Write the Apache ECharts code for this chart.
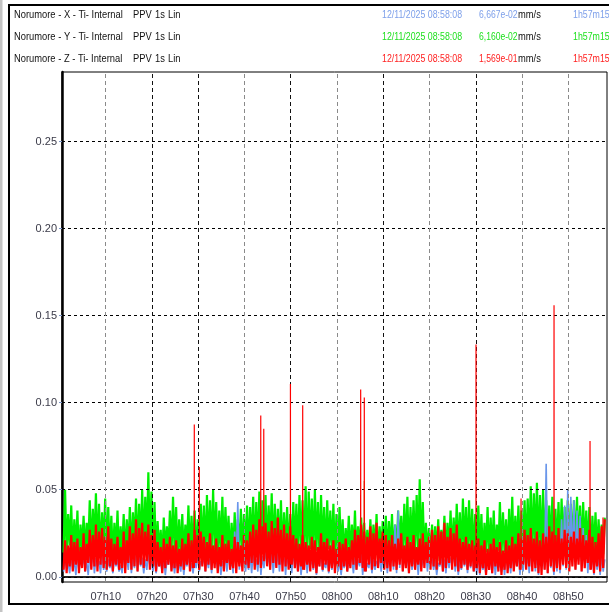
<!DOCTYPE html>
<html>
<head>
<meta charset="utf-8">
<script src="https://cdn.jsdelivr.net/npm/echarts@6/dist/echarts.min.js"></script>
<style>
html,body{margin:0;padding:0;background:#fff;}
#chart{width:609px;height:612px;}
</style>
</head>
<body>
<div id="chart"></div>
<script>
// ---- data (values in thousandths of mm/s, alternating low/high every 20 s from 07:00:53) ----
const VALUE_SCALE = 0.001;
const START_TIME = '07:00:53';
const STEP_SECONDS = 20;

const seriesNames = ['Norumore - X - Ti- Internal', 'Norumore - Y - Ti- Internal', 'Norumore - Z - Ti- Internal'];
const seriesKind = ['PPV', '1s', 'Lin'];
const lastDate = '12/11/2025 08:58:08';
const lastValues = ['6,667e-02', '6,160e-02', '1,569e-01'];
const unitText = 'mm/s';
const durationText = '1h57m15';

const xValues = [
 3,11, 5,8, 2,13, 4,9, 1,14, 4,10, 6,12, 3,9, 1,13, 5,15, 2,11, 6,9, 2,14, 4,12, 3,10,
 5,9, 2,12, 6,10, 3,7, 2,13, 7,11, 4,15, 2,12, 5,16, 3,13, 6,11, 2,10, 4,14, 7,9, 3,12,
 2,10, 6,8, 3,11, 1,9, 7,12, 4,9, 2,10, 5,7, 3,12, 1,10, 6,13, 4,8, 2,11, 5,14, 3,9,
 7,12, 3,10, 5,14, 2,11, 8,10, 4,13, 1,9, 6,12, 3,15, 5,10, 2,26, 7,43, 4,17, 8,12, 3,11,
 4,12, 2,14, 6,10, 3,16, 1,12, 5,15, 8,11, 4,17, 2,13, 6,15, 3,12, 7,16, 1,14, 5,12, 2,15,
 6,11, 3,13, 1,9, 5,14, 2,12, 7,9, 4,12, 1,10, 6,14, 3,8, 5,11, 2,13, 4,10, 7,12, 3,10,
 1,9, 5,11, 3,8, 7,10, 2,12, 4,10, 6,14, 1,12, 3,8, 5,13, 2,10, 4,9, 7,12, 3,11, 5,14,
 2,12, 6,17, 4,30, 2,38, 5,22, 3,14, 7,12, 2,15, 4,10, 6,13, 1,12, 5,9, 8,16, 3,13, 7,11,
 4,10, 1,8, 6,12, 3,10, 2,14, 5,11, 7,16, 3,12, 1,10, 4,14, 6,12, 2,13, 5,16, 3,11, 1,14,
 1,10, 4,8, 1,12, 6,9, 2,13, 1,10, 5,8, 3,12, 1,11, 7,10, 2,14, 4,12, 6,15, 1,12, 3,14,
 5,13, 2,16, 7,18, 3,14, 1,20, 6,17, 4,65, 2,22, 5,17, 1,15, 3,19, 2,33, 6,41, 4,50, 8,46,
 7,44, 4,38, 9,35, 3,28, 6,24, 2,17, 5,13, 1,16, 4,12, 1,13, 3,10
];
const yValues = [
 14,50, 12,36, 18,41, 10,33, 15,38, 9,30, 16,35, 12,31, 17,44, 13,39, 19,48, 14,42, 11,37, 16,45, 12,40,
 13,35, 10,31, 15,38, 11,29, 14,36, 9,33, 16,40, 12,37, 18,45, 14,42, 17,50, 15,46, 19,60, 16,49, 13,43,
 11,32, 14,27, 9,34, 13,29, 16,38, 12,46, 15,40, 10,33, 13,36, 11,30, 16,41, 12,35, 14,38, 10,33, 15,42,
 15,41, 12,47, 17,44, 13,50, 16,43, 11,38, 14,46, 12,40, 15,35, 10,31, 13,37, 11,33, 16,39, 12,36, 14,41,
 13,40, 17,46, 12,43, 15,49, 11,44, 16,47, 14,41, 18,48, 12,42, 15,39, 13,44, 10,37, 16,40, 12,36, 14,43,
 15,42, 12,47, 17,44, 14,52, 11,49, 16,45, 13,50, 15,43, 12,47, 14,40, 11,44, 16,38, 13,42, 10,36, 14,40,
 12,33, 9,28, 14,35, 11,30, 13,38, 10,29, 15,34, 12,31, 9,27, 13,33, 11,30, 14,36, 10,29, 12,32, 15,35,
 11,32, 14,36, 10,30, 13,38, 16,35, 12,42, 15,46, 11,40, 17,44, 13,47, 16,56, 12,43, 10,31, 13,28, 9,30,
 10,29, 13,33, 9,27, 14,35, 11,31, 15,38, 12,34, 16,42, 13,37, 11,45, 15,40, 12,44, 14,39, 10,36, 13,41,
 12,36, 9,31, 14,40, 11,34, 13,38, 10,30, 15,43, 12,37, 14,33, 11,39, 13,46, 10,35, 15,41, 12,38, 16,44,
 14,45, 17,52, 13,48, 18,54, 15,47, 12,50, 16,44, 13,41, 15,46, 11,39, 14,43, 12,45, 16,40, 13,44, 15,42,
 14,44, 11,46, 15,41, 12,43, 16,38, 13,40, 10,35, 14,37, 12,33, 11,30, 13,34
];
const zValues = [
 4,21, 2,18, 6,24, 3,20, 7,22, 2,17, 5,25, 3,19, 8,27, 4,24, 6,30, 3,26, 7,28, 5,23, 4,29,
 6,22, 3,19, 7,23, 4,17, 5,26, 2,21, 8,29, 4,25, 6,33, 3,28, 7,31, 5,26, 9,30, 4,24, 6,27,
 3,20, 6,17, 2,22, 5,19, 7,23, 3,18, 5,21, 2,16, 6,22, 4,19, 7,25, 3,21, 5,27, 8,24, 4,26,
 6,23, 3,20, 7,25, 4,18, 5,22, 2,17, 6,24, 3,19, 8,21, 4,16, 5,23, 2,20, 6,18, 3,24, 7,21,
 5,26, 8,30, 4,27, 7,33, 5,29, 9,31, 6,26, 4,32, 8,28, 5,34, 7,27, 3,30, 6,25, 4,29, 7,24,
 5,22, 3,19, 6,24, 4,20, 7,18, 3,23, 5,21, 2,17, 6,25, 4,20, 7,22, 3,18, 5,21, 2,16, 6,20,
 4,19, 6,22, 3,17, 5,21, 7,27, 4,24, 8,30, 5,26, 3,23, 7,29, 4,25, 6,31, 5,22, 8,26, 4,24,
 5,21, 3,24, 6,19, 4,22, 7,25, 3,18, 5,23, 2,20, 6,24, 4,17, 7,22, 3,25, 5,20, 8,23, 4,27,
 6,24, 4,29, 7,26, 3,31, 5,23, 8,28, 4,25, 6,30, 3,22, 5,20, 7,23, 4,19, 6,21, 3,18, 5,22,
 2,18, 5,21, 1,16, 4,19, 2,22, 6,17, 3,20, 1,15, 4,21, 2,18, 5,23, 3,19, 6,25, 4,22, 7,27,
 4,24, 6,28, 3,22, 5,26, 2,21, 1,25, 4,23, 2,29, 6,26, 3,24, 5,28, 4,22, 7,27, 5,25, 3,23,
 6,26, 4,22, 7,28, 3,24, 5,21, 8,27, 4,23, 2,20, 6,25, 3,29, 5,33
];

// isolated 1-s peaks (mm/s)
const zSpikeTimes  = ['07:29:09','07:30:14','07:43:31','07:44:10','07:49:56','07:52:35','08:05:07','08:05:54','08:30:03','08:39:47','08:46:55','08:54:42','08:57:30'];
const zSpikeValues = [0.0875, 0.063, 0.0926, 0.085, 0.1107, 0.0986, 0.1076, 0.103, 0.1335, 0.045, 0.156, 0.078, 0.034];
const ySpikeTimes  = ['08:05:54'];
const ySpikeValues = [0.055];

const xTickLabels = ['07:10','07:20','07:30','07:40','07:50','08:00','08:10','08:20','08:30','08:40','08:50'];
const yTickValues = [0, 0.05, 0.10, 0.15, 0.20, 0.25];
const X_MIN = '07:00:33', X_MAX = '08:58:22';
const Y_MIN = -0.003, Y_MAX = 0.29;

// ---- helpers ----
function ts(hms) {
  const p = hms.split(':').map(Number);
  return Date.UTC(2025, 10, 12, p[0], p[1], p[2] || 0);
}
function pad(n) { return (n < 10 ? '0' : '') + n; }
const T0 = ts(START_TIME);
const STEP_MS = STEP_SECONDS * 1000;
function buildSeries(values) {
  return values.map((v, i) => [T0 + i * STEP_MS, v * VALUE_SCALE]);
}
// thin 1-s peaks, starting from the local level of the same channel
function buildSpikes(spikeT, spikeV, values) {
  const pts = [];
  spikeT.forEach((t, k) => {
    const tt = ts(t);
    const i = Math.max(0, Math.min(values.length - 1, Math.floor((tt - T0) / STEP_MS)));
    const base = Math.min(values[i], values[Math.min(values.length - 1, i + 1)]) * VALUE_SCALE;
    pts.push([tt - 1000, base], [tt, spikeV[k]], [tt + 1000, base], [tt + 1500, '-']);
  });
  return pts;
}

const COLORS = { x: '#6a96ea', y: '#00f000', z: '#ff0000' };
const TEXT_COLORS = ['#7ea0ea', '#1ee01e', '#ff2020'];
const vGridColors = ['#8a8a8a','#111','#111','#8a8a8a','#111','#8a8a8a','#111','#8a8a8a','#111','#8a8a8a','#8a8a8a'];

const xTickTs = xTickLabels.map(ts);

const markLineData = [];
yTickValues.forEach(v => markLineData.push({ yAxis: v, lineStyle: { color: '#000', type: [3, 3], width: 1 } }));
xTickTs.forEach((t, i) => markLineData.push({ xAxis: t, lineStyle: { color: vGridColors[i], type: [4, 3], width: 1 } }));

// header graphics
const headFont = "11px 'Liberation Sans', Arial, sans-serif";
const graphics = [
  { type: 'rect', shape: { x: 0, y: 0, width: 2.5, height: 612 }, style: { fill: '#c4c4c4' }, silent: true },
  { type: 'rect', shape: { x: 9, y: 5, width: 610, height: 599 }, style: { fill: 'none', stroke: '#000', lineWidth: 2 }, silent: true }
];
const rowY = [15, 37, 59];
function headText(x, y, text, color, sx) {
  return { type: 'text', x: x, y: y, scaleX: sx, silent: true,
    style: { text: text, font: headFont, fill: color, verticalAlign: 'middle' } };
}
seriesNames.forEach((name, i) => {
  const y = rowY[i];
  graphics.push(headText(14, y, name, '#111', 0.85));
  graphics.push(headText(133, y, seriesKind[0], '#111', 0.85));
  graphics.push(headText(155, y, seriesKind[1], '#111', 0.85));
  graphics.push(headText(168, y, seriesKind[2], '#111', 0.85));
  graphics.push(headText(382, y, lastDate, TEXT_COLORS[i], 0.8));
  graphics.push(headText(479, y, lastValues[i], TEXT_COLORS[i], 0.78));
  graphics.push(headText(518, y, unitText, '#111', 0.85));
  graphics.push(headText(573, y, durationText, TEXT_COLORS[i], 0.8));
});

const lineBase = { type: 'line', showSymbol: false, symbol: 'none', sampling: null, connectNulls: false, silent: true };

const chart = echarts.init(document.getElementById('chart'), null, { renderer: 'canvas' });
chart.setOption({
  animation: false,
  backgroundColor: '#fff',
  graphic: graphics,
  grid: { left: 62, top: 72, right: 2, bottom: 30, show: true, borderColor: '#000', borderWidth: 1, backgroundColor: 'transparent' },
  xAxis: {
    type: 'value',
    min: ts(X_MIN), max: ts(X_MAX),
    axisLine: { show: true, lineStyle: { color: '#222', width: 2 } },
    axisTick: { show: true, length: 4, lineStyle: { color: '#555' }, customValues: xTickTs },
    axisLabel: {
      customValues: xTickTs, margin: 9, color: '#3a3a48', fontSize: 11, fontFamily: 'Liberation Sans, Arial, sans-serif',
      formatter: v => { const d = new Date(v); return pad(d.getUTCHours()) + 'h' + pad(d.getUTCMinutes()); }
    },
    splitLine: { show: false }
  },
  yAxis: {
    type: 'value',
    min: Y_MIN, max: Y_MAX,
    axisLine: { show: true, lineStyle: { color: '#000', width: 2.5 } },
    axisTick: { show: true, length: 3, lineStyle: { color: '#7b95c8' }, customValues: yTickValues },
    axisLabel: {
      customValues: yTickValues, margin: 5, color: '#3a3a48', fontSize: 11, fontFamily: 'Liberation Sans, Arial, sans-serif',
      formatter: v => v.toFixed(2)
    },
    splitLine: { show: false }
  },
  series: [
    Object.assign({}, lineBase, { name: 'Y', data: buildSeries(yValues), lineStyle: { color: COLORS.y, width: 2.2 }, itemStyle: { color: COLORS.y }, z: 2 }),
    Object.assign({}, lineBase, { name: 'Y peaks', data: buildSpikes(ySpikeTimes, ySpikeValues, yValues), lineStyle: { color: '#8a9a10', width: 1.2 }, itemStyle: { color: COLORS.y }, z: 2 }),
    Object.assign({}, lineBase, { name: 'X', data: buildSeries(xValues), lineStyle: { color: COLORS.x, width: 1.6 }, itemStyle: { color: COLORS.x }, z: 3 }),
    Object.assign({}, lineBase, { name: 'Z', data: buildSeries(zValues), lineStyle: { color: COLORS.z, width: 2.2 }, itemStyle: { color: COLORS.z }, z: 4 }),
    Object.assign({}, lineBase, { name: 'Z peaks', data: buildSpikes(zSpikeTimes, zSpikeValues, zValues), lineStyle: { color: COLORS.z, width: 1.2 }, itemStyle: { color: COLORS.z }, z: 5 }),
    { name: 'grid', type: 'line', data: [], z: 10, silent: true,
      markLine: { silent: true, symbol: ['none', 'none'], label: { show: false }, animation: false, data: markLineData } }
  ]
});
</script>
</body>
</html>
